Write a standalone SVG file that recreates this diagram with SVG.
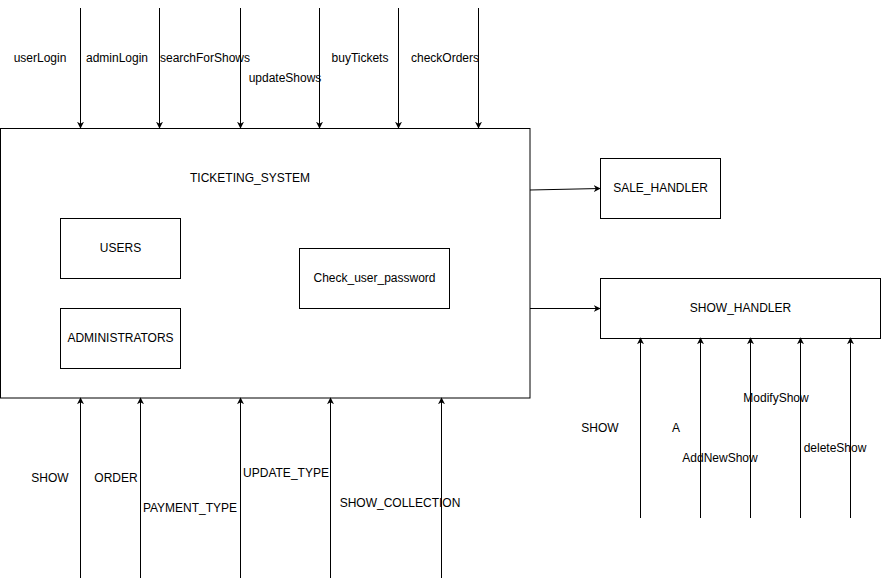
<svg xmlns="http://www.w3.org/2000/svg" width="882" height="588" viewBox="0 0 882 588">
<style>
.box{fill:#fff;stroke:#000;stroke-width:1}
.t{font-family:"Liberation Sans",Arial,Helvetica,sans-serif;font-size:12px;fill:#000;text-anchor:middle;dominant-baseline:central}
.c{stroke:#000;stroke-width:1;fill:none;marker-end:url(#ah)}
</style>
<defs>
<marker id="ah" viewBox="0 0 10 10" refX="9" refY="5" markerWidth="7" markerHeight="7" markerUnits="userSpaceOnUse" orient="auto">
<path d="M0,0 L10,5 L0,10 L3,5 Z" fill="#000"/>
</marker>
</defs>
<rect width="882" height="588" fill="#fff"/>
<g id="ticketing_system">
<rect class="box" x="0.5" y="128.5" width="529.5" height="269.5"/>
<text class="t" x="250" y="178">TICKETING_SYSTEM</text>
</g>
<g id="users">
<rect class="box" x="60.5" y="218.5" width="120" height="60"/>
<text class="t" x="120.5" y="248">USERS</text>
</g>
<g id="administrators">
<rect class="box" x="60.5" y="308.5" width="120" height="60"/>
<text class="t" x="120.5" y="338">ADMINISTRATORS</text>
</g>
<g id="check_user_password">
<rect class="box" x="299.5" y="248.5" width="150" height="60"/>
<text class="t" x="374.5" y="278">Check_user_password</text>
</g>
<g id="sale_handler">
<rect class="box" x="600.5" y="158.5" width="120" height="60"/>
<text class="t" x="660.5" y="188">SALE_HANDLER</text>
</g>
<g id="show_handler">
<rect class="box" x="600.5" y="278.5" width="280" height="60"/>
<text class="t" x="740.5" y="308">SHOW_HANDLER</text>
</g>
<g id="connectors">
<path class="c" d="M80.5,8 V128"/>
<path class="c" d="M159.5,8 V128"/>
<path class="c" d="M240.5,8 V128"/>
<path class="c" d="M319.5,8 V128"/>
<path class="c" d="M398.5,8 V128"/>
<path class="c" d="M478.5,8 V128"/>
<path class="c" d="M530,190 L600,188.5"/>
<path class="c" d="M530,308.5 H600"/>
<path class="c" d="M80.5,578 V398"/>
<path class="c" d="M140.5,578 V398"/>
<path class="c" d="M240.5,578 V398"/>
<path class="c" d="M330.5,578 V398"/>
<path class="c" d="M441.5,578 V398"/>
<path class="c" d="M640.5,518 V338"/>
<path class="c" d="M700.5,518 V338"/>
<path class="c" d="M750.5,518 V338"/>
<path class="c" d="M800.5,518 V338"/>
<path class="c" d="M850.5,518 V338"/>
</g>
<g id="labels">
<text class="t" x="40" y="58">userLogin</text>
<text class="t" x="117" y="58">adminLogin</text>
<text class="t" x="205" y="58">searchForShows</text>
<text class="t" x="285" y="78">updateShows</text>
<text class="t" x="360" y="58">buyTickets</text>
<text class="t" x="445" y="58">checkOrders</text>
<text class="t" x="50" y="478">SHOW</text>
<text class="t" x="116" y="478">ORDER</text>
<text class="t" x="190" y="508">PAYMENT_TYPE</text>
<text class="t" x="286" y="473">UPDATE_TYPE</text>
<text class="t" x="400" y="503">SHOW_COLLECTION</text>
<text class="t" x="600" y="428">SHOW</text>
<text class="t" x="676" y="428">A</text>
<text class="t" x="720" y="458">AddNewShow</text>
<text class="t" x="776" y="398">ModifyShow</text>
<text class="t" x="835" y="448">deleteShow</text>
</g>
</svg>
